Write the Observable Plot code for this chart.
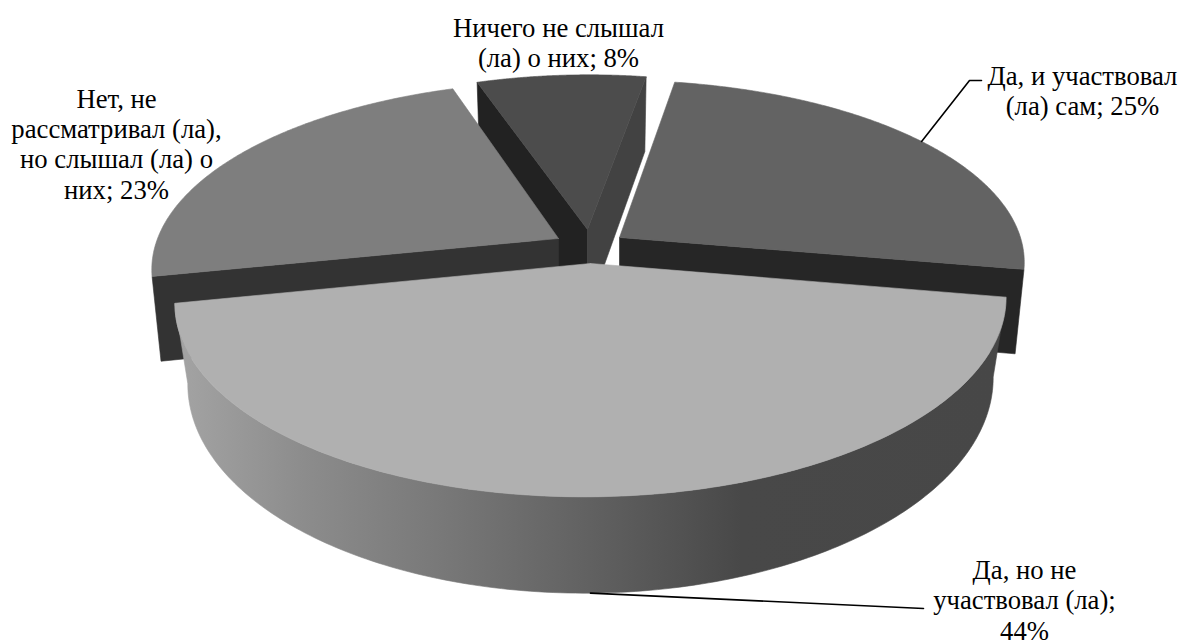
<!DOCTYPE html>
<html><head><meta charset="utf-8">
<style>html,body{margin:0;padding:0;background:#fff}svg{display:block}</style>
<script src="https://cdn.jsdelivr.net/npm/d3@7"></script>
<script src="https://cdn.jsdelivr.net/npm/@observablehq/plot@0.6"></script>
</head><body><div id="chart"></div>
<script>
// Data
const labels = ["Да, и участвовал\n(ла) сам; 25%", "Да, но не\nучаствовал (ла);\n44%", "Нет, не\nрассматривал (ла),\nно слышал (ла) о\nних; 23%", "Ничего не слышал\n(ла) о них; 8%"];
const values = [25, 44, 23, 8];

// Styles and layout of the pseudo-3D pie
const topColors = ["#636363", "#b0b0b0", "#7e7e7e", "#4c4c4c"];
const leftWall = ["#262626", null, "#333333", "#222222"];
const rightWall = [null, null, null, "#424242"];
const apexX = [619, 590, 558, 587];
const apexY = [237, 263, 238, 229];
const shiftX = [-12, 0, 4, -5];
const radiusX = [412, 408, 406, 390];
const radiusY = [181, 189, 181, 178];
const persp = [0.151, 0.19, 0.151, 0.151];
const labelX = [1082, 1024, 116, 558];
const labelY = [90, 599, 143, 42];
const TILT = -3;
const firstAngle = 10.8 * Math.PI / 180;
const wallStopsX = [186, 304, 456, 608, 741, 1000];
const wallStopsC = ["#a2a2a2", "#8c8c8c", "#767676", "#5e5e5e", "#484848", "#474747"];

const arcs = d3.pie().sort(null).value(d => d).startAngle(firstAngle).endAngle(firstAngle + 2 * Math.PI)(values);
const pt = (i, a) => {
  const X = Math.sin(a), Y = Math.cos(a), s = 1 / (1 + persp[i] * Y);
  return [apexX[i] + shiftX[i] + s * radiusX[i] * X, apexY[i] - s * (radiusY[i] * Y - TILT * X)];
};
const lower = (i, p) => i === 1
  ? [apexX[i] + (p[0] - apexX[i]) * 0.969, 1.082 * p[1] + 55.6]
  : [apexX[i] + (p[0] - apexX[i]) * 0.978, 1.05 * p[1] + 71];
const range = (a0, a1) => d3.range(0, 181).map(k => a0 + (a1 - a0) * k / 180);

const polys = [];
let nextId = 0;
const add = (pts, c, rows = polys) => { const id = nextId++; pts.concat([pts[0]]).forEach(p => rows.push({id, x: p[0], y: p[1], c})); };
const sideWall = (i, a, c) => { const A = [apexX[i], apexY[i]], P = pt(i, a); add([A, P, lower(i, P), lower(i, A)], c); };
const face = (i, rows) => add([[apexX[i], apexY[i]], ...range(arcs[i].startAngle, arcs[i].endAngle).map(a => pt(i, a))], topColors[i], rows);

// back slice, then left and right slices, then the big front slice
sideWall(3, arcs[3].startAngle, leftWall[3]);
sideWall(3, arcs[3].endAngle, rightWall[3]);
face(3);
sideWall(2, arcs[2].startAngle, leftWall[2]);
face(2);
sideWall(0, arcs[0].endAngle, leftWall[0]);
face(0);
const wallRows = [];
const rim = range(arcs[1].startAngle, arcs[1].endAngle).map(a => pt(1, a));
add([...rim, ...rim.map(p => lower(1, p)).reverse()], "wall", wallRows);
const frontRows = [];
face(1, frontRows);

// leader lines start at the slice's mid angle
const mid = arcs.map(d => (d.startAngle + d.endAngle) / 2);
const s0 = pt(0, mid[0]);
const s1 = lower(1, pt(1, mid[1]));
const leaders = [
  {id: 0, x: s0[0], y: s0[1]}, {id: 0, x: 969, y: 80}, {id: 0, x: 981, y: 80},
  {id: 1, x: s1[0], y: s1[1]}, {id: 1, x: 923, y: 608}
];

const gradientDefs = () => {
  const defs = d3.create("svg:defs");
  const g = defs.append("linearGradient").attr("id", "wallGrad").attr("gradientUnits", "userSpaceOnUse")
    .attr("x1", wallStopsX[0]).attr("x2", wallStopsX[wallStopsX.length - 1]).attr("y1", 0).attr("y2", 0);
  const span = wallStopsX[wallStopsX.length - 1] - wallStopsX[0];
  wallStopsX.forEach((x, i) => g.append("stop").attr("offset", (x - wallStopsX[0]) / span).attr("stop-color", wallStopsC[i]));
  return defs.node();
};

const chart = Plot.plot({
  width: 1186, height: 641, margin: 0,
  x: {domain: [0, 1186], range: [0, 1186], axis: null},
  y: {domain: [0, 641], range: [0, 641], axis: null},
  marks: [
    gradientDefs,
    Plot.line(polys, {x: "x", y: "y", z: "id", fill: "c", stroke: "c", strokeWidth: 0.6}),
    Plot.line(wallRows, {x: "x", y: "y", z: "id", fill: "url(#wallGrad)", stroke: "url(#wallGrad)", strokeWidth: 0.6}),
    Plot.line(frontRows, {x: "x", y: "y", z: "id", fill: "c", stroke: "c", strokeWidth: 0.6}),
    Plot.line(leaders, {x: "x", y: "y", z: "id", stroke: "#000", strokeWidth: 1.6}),
    Plot.text(labels, {x: (d, i) => labelX[i], y: (d, i) => labelY[i], text: d => d, fontFamily: "Liberation Serif", fontSize: 26.7, lineHeight: 1.14, fill: "#000", textAnchor: "middle"})
  ]
});
document.getElementById("chart").append(chart);
</script></body></html>
